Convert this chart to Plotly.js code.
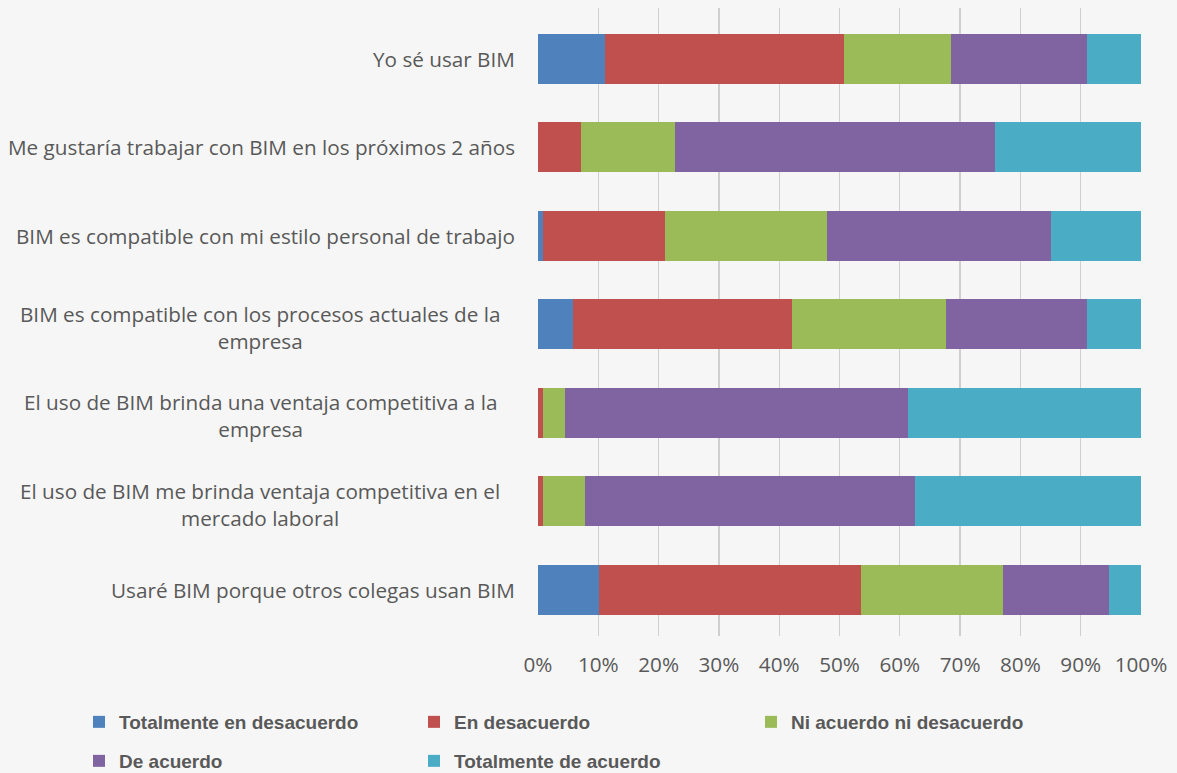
<!DOCTYPE html>
<html>
<head>
<meta charset="utf-8">
<script src="https://cdn.plot.ly/plotly-3.0.1.min.js"></script>
<style>
  html, body { margin: 0; padding: 0; background: #F6F6F6; }
  #chart { width: 1177px; height: 773px; }
</style>
</head>
<body>
<div id="chart"></div>
<script>
// Categories (top to bottom)
const categories = [
  "Yo sé usar BIM",
  "Me gustaría trabajar con BIM en los próximos 2 años",
  "BIM es compatible con mi estilo personal de trabajo",
  "BIM es compatible con los procesos actuales de la empresa",
  "El uso de BIM brinda una ventaja competitiva a la empresa",
  "El uso de BIM me brinda ventaja competitiva en el mercado laboral",
  "Usaré BIM porque otros colegas usan BIM"
];
// Displayed (wrapped) category labels
const categoryLabels = [
  "Yo sé usar BIM",
  "Me gustaría trabajar con BIM en los próximos 2 años",
  "BIM es compatible con mi estilo personal de trabajo",
  "BIM es compatible con los procesos actuales de la<br>empresa",
  "El uso de BIM brinda una ventaja competitiva a la<br>empresa",
  "El uso de BIM me brinda ventaja competitiva en el<br>mercado laboral",
  "Usaré BIM porque otros colegas usan BIM"
];
// Series names
const seriesNames = [
  "Totalmente en desacuerdo",
  "En desacuerdo",
  "Ni acuerdo ni desacuerdo",
  "De acuerdo",
  "Totalmente de acuerdo"
];
// Series values (% per category)
const totalmenteEnDesacuerdo = [11.1, 0.0, 0.8, 5.8, 0.0, 0.0, 10.1];
const enDesacuerdo           = [39.6, 7.1, 20.3, 36.3, 0.8, 0.8, 43.5];
const niAcuerdoNiDesacuerdo  = [17.8, 15.6, 26.8, 25.6, 3.7, 7.0, 23.5];
const deAcuerdo              = [22.5, 53.1, 37.2, 23.3, 56.9, 54.7, 17.6];
const totalmenteDeAcuerdo    = [9.0, 24.2, 14.9, 9.0, 38.6, 37.5, 5.3];
// X tick values
const xTicks = [0, 10, 20, 30, 40, 50, 60, 70, 80, 90, 100];

const seriesValues = [totalmenteEnDesacuerdo, enDesacuerdo, niAcuerdoNiDesacuerdo, deAcuerdo, totalmenteDeAcuerdo];
const colors = ["#4F81BD", "#C0504D", "#9BBB59", "#8064A2", "#4BACC6"];
const legendIds = ["legend", "legend2", "legend3", "legend4", "legend5"];
// legend grid placement (pixels of item start, row centre)
const legendPos = [[79, 722], [414, 722], [751, 722], [79, 761], [414, 761]];

const traces = seriesValues.map((vals, i) => ({
  type: "bar",
  orientation: "h",
  name: seriesNames[i],
  x: vals,
  y: categories,
  marker: { color: colors[i], line: { width: 0 } },
  legend: legendIds[i],
  hoverinfo: "skip"
}));

const textFont = { family: "Open Sans, Noto Sans, sans-serif", size: 20.7, color: "#595959" };

const annotations = categories.map((c, i) => {
  const multi = categoryLabels[i].indexOf("<br>") >= 0;
  return {
    xref: "paper", yref: "y",
    x: multi ? (260 - 538) / 603 : (517 - 538) / 603,
    y: c,
    xanchor: multi ? "center" : "right",
    yanchor: "middle",
    yshift: multi ? -3 : 0,
    text: categoryLabels[i],
    align: "center",
    showarrow: false,
    font: textFont
  };
});

const legendFont = { family: "Liberation Sans, Arial, sans-serif", size: 19, color: "#595959", weight: "bold" };

const layout = {
  width: 1177,
  height: 773,
  paper_bgcolor: "#F6F6F6",
  plot_bgcolor: "#F6F6F6",
  margin: { l: 538, r: 36, t: 8, b: 137, pad: 0 },
  barmode: "stack",
  bargap: 0.435,
  showlegend: true,
  xaxis: {
    range: [0, 100],
    tickvals: xTicks,
    ticktext: xTicks.map(v => v + "%"),
    showgrid: true,
    gridcolor: "#CFCFCF",
    gridwidth: 1.3,
    zeroline: false,
    showline: false,
    ticks: "",
    ticklabelstandoff: 14,
    tickfont: textFont,
    fixedrange: true
  },
  yaxis: {
    type: "category",
    categoryorder: "array",
    categoryarray: categories,
    range: [6.52, -0.576],
    autorange: false,
    showticklabels: false,
    showgrid: false,
    zeroline: false,
    showline: false,
    ticks: "",
    fixedrange: true
  },
  annotations: annotations
};

legendIds.forEach((id, i) => {
  layout[id] = {
    orientation: "h",
    xref: "container", yref: "container",
    x: legendPos[i][0] / 1177, y: 1 - legendPos[i][1] / 773,
    xanchor: "left", yanchor: "middle",
    font: legendFont,
    bgcolor: "rgba(0,0,0,0)"
  };
});

Plotly.newPlot("chart", traces, layout, { displayModeBar: false, staticPlot: true });
</script>
</body>
</html>
